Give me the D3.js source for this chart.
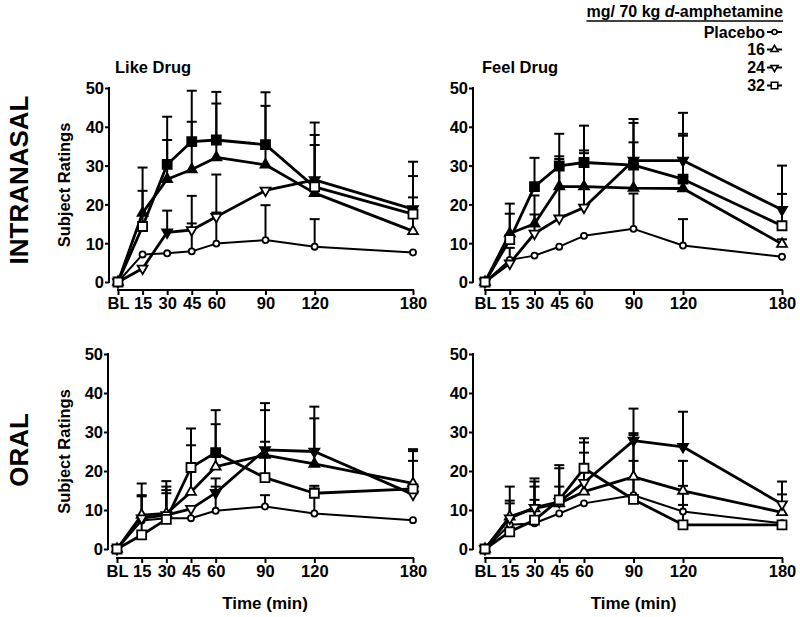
<!DOCTYPE html>
<html>
<head>
<meta charset="utf-8">
<script src="https://cdn.jsdelivr.net/npm/d3@7"></script>
<style>
  html, body { margin: 0; padding: 0; background: #fff; }
  svg { display: block; }
  text { font-family: "Liberation Sans", Arial, sans-serif; font-weight: bold; fill: #000; }
</style>
</head>
<body>
<svg id="chart" width="800" height="617"></svg>
<script>
// ---------- data ----------
const times = [0, 15, 30, 45, 60, 90, 120, 180];
const timeLabels = ["BL", "15", "30", "45", "60", "90", "120", "180"];
const yTicks = [0, 10, 20, 30, 40, 50];
const doseLabels = ["Placebo", "16", "24", "32"];
const doseSymbols = ["circle", "up", "down", "square"];

// Intranasal - Like Drug (mean, upper error-bar end, filled = significant)
const inLikePlacebo = [0, 7.1, 7.4, 7.9, 9.9, 10.8, 9.1, 7.6];
const inLike16 = [0, 17.8, 26.5, 29.0, 32.1, 30.2, 22.9, 13.1];
const inLike24 = [0, 3.5, 12.8, 13.4, 16.8, 23.6, 26.3, 18.8];
const inLike32 = [0, 14.3, 30.3, 36.2, 36.6, 35.4, 24.5, 17.5];
const inLikePlaceboErr = [null, null, null, 15.1, 17.9, 19.8, 16.2, null];
const inLike16Err = [null, 29.5, 36.6, 41.3, 46.0, 45.4, 35.3, 21.8];
const inLike24Err = [null, null, 18.4, 22.2, 27.7, null, 41.1, 31.0];
const inLike32Err = [null, 23.5, 42.6, 49.3, 49.0, 48.9, 37.9, 27.3];
const inLike16Fill = [0, 1, 1, 1, 1, 1, 1, 0];
const inLike24Fill = [0, 0, 1, 0, 0, 0, 1, 1];
const inLike32Fill = [0, 0, 1, 1, 1, 1, 0, 0];

// Intranasal - Feel Drug
const inFeelPlacebo = [0, 5.7, 6.8, 9.1, 11.9, 13.7, 9.4, 6.5];
const inFeel16 = [0, 12.5, 15.0, 24.6, 24.6, 24.2, 24.1, 9.8];
const inFeel24 = [0, 4.8, 12.5, 16.4, 19.2, 31.3, 31.3, 18.6];
const inFeel32 = [0, 10.9, 24.6, 29.9, 30.8, 30.1, 26.5, 14.5];
const inFeelPlaceboErr = [null, 8.8, null, null, null, 22.8, 16.2, null];
const inFeel16Err = [null, 20.2, 22.3, 31.7, 33.9, 36.0, 37.7, 11.0];
const inFeel24Err = [null, null, 17.4, 32.4, 33.2, 42.0, 43.6, 30.0];
const inFeel32Err = [null, 17.6, 32.0, 38.2, 40.3, 41.0, 38.2, 22.7];
const inFeel16Fill = [0, 1, 1, 1, 1, 1, 1, 0];
const inFeel24Fill = [0, 0, 0, 0, 0, 1, 1, 1];
const inFeel32Fill = [0, 0, 1, 1, 1, 1, 1, 0];

// Oral - Like Drug
const oLikePlacebo = [0, 7.3, 7.9, 7.9, 9.8, 10.9, 9.1, 7.4];
const oLike16 = [0, 8.7, 9.1, 14.6, 21.1, 24.1, 21.8, 16.8];
const oLike24 = [0, 7.9, 8.7, 10.3, 14.4, 25.4, 25.0, 14.0];
const oLike32 = [0, 3.6, 7.6, 20.9, 24.7, 18.3, 14.3, 15.4];
const oLikePlaceboErr = [null, null, 14.3, null, 16.0, 13.8, 16.2, null];
const oLike16Err = [null, 16.8, 17.4, 26.6, 32.0, 35.6, 33.5, 25.6];
const oLike24Err = [null, 13.8, 16.0, null, 18.1, 37.4, 36.5, 22.6];
const oLike32Err = [null, 13.5, 15.1, 30.9, 35.6, 27.5, 15.5, 25.1];
const oLike16Fill = [0, 0, 0, 0, 0, 1, 1, 0];
const oLike24Fill = [0, 0, 0, 0, 1, 1, 1, 0];
const oLike32Fill = [0, 0, 0, 0, 1, 0, 0, 0];

// Oral - Feel Drug
const oFeelPlacebo = [0, 6.2, 6.6, 9.1, 11.7, 13.8, 9.6, 6.6];
const oFeel16 = [0, 8.3, 10.4, 11.7, 14.7, 18.5, 14.9, 9.4];
const oFeel24 = [0, 7.9, 10.6, 12.1, 17.0, 27.8, 26.2, 11.5];
const oFeel32 = [0, 4.4, 7.4, 12.6, 20.7, 12.7, 6.2, 6.2];
const oFeelPlaceboErr = [null, 11.7, 12.6, null, null, 22.6, 16.2, null];
const oFeel16Err = [null, 16.0, 17.3, 16.0, 24.7, 29.7, 22.6, 14.0];
const oFeel24Err = [null, 12.4, 18.1, 20.7, 27.3, 36.0, 35.2, 17.3];
const oFeel32Err = [null, null, 16.0, 21.5, 28.4, 29.2, 11.3, null];
const oFeel16Fill = [0, 0, 0, 0, 0, 0, 0, 0];
const oFeel24Fill = [0, 0, 0, 0, 0, 1, 1, 0];
const oFeel32Fill = [0, 0, 0, 0, 0, 0, 0, 0];

const noFill = [0, 0, 0, 0, 0, 0, 0, 0];

// ---------- panel layout ----------
const panels = [
  { title: "Like Drug", yLabel: true, xLabel: false, x0: 118, x1: 413, axisX: 109, y0: 282, y50: 88, axisY: 290,
    series: [[inLikePlacebo, inLikePlaceboErr, noFill], [inLike16, inLike16Err, inLike16Fill], [inLike24, inLike24Err, inLike24Fill], [inLike32, inLike32Err, inLike32Fill]] },
  { title: "Feel Drug", yLabel: false, xLabel: false, x0: 485, x1: 782, axisX: 473, y0: 282, y50: 88, axisY: 290,
    series: [[inFeelPlacebo, inFeelPlaceboErr, noFill], [inFeel16, inFeel16Err, inFeel16Fill], [inFeel24, inFeel24Err, inFeel24Fill], [inFeel32, inFeel32Err, inFeel32Fill]] },
  { title: null, yLabel: true, xLabel: true, x0: 117, x1: 413, axisX: 108, y0: 549, y50: 354, axisY: 558,
    series: [[oLikePlacebo, oLikePlaceboErr, noFill], [oLike16, oLike16Err, oLike16Fill], [oLike24, oLike24Err, oLike24Fill], [oLike32, oLike32Err, oLike32Fill]] },
  { title: null, yLabel: false, xLabel: true, x0: 485, x1: 782, axisX: 473, y0: 549, y50: 354, axisY: 558,
    series: [[oFeelPlacebo, oFeelPlaceboErr, noFill], [oFeel16, oFeel16Err, oFeel16Fill], [oFeel24, oFeel24Err, oFeel24Fill], [oFeel32, oFeel32Err, oFeel32Fill]] }
];

const svg = d3.select("#chart");

function symbolPath(kind, s) {
  if (kind === "circle") return d3.symbol(d3.symbolCircle, Math.PI * (s * 0.38) * (s * 0.38))();
  if (kind === "square") return d3.symbol(d3.symbolSquare, s * s)();
  return d3.symbol(d3.symbolTriangle, Math.sqrt(3) / 4 * (s * 1.1) * (s * 1.1))();
}
function drawSymbol(g, kind, x, y, filled, s, sw) {
  const p = g.append("path")
    .attr("d", symbolPath(kind, s))
    .attr("fill", filled ? "#000" : "#fff")
    .attr("stroke", "#000")
    .attr("stroke-width", sw);
  let tr = `translate(${x},${y})`;
  if (kind === "down") tr += " rotate(180)";
  p.attr("transform", tr);
}

const FS = 16.5;

panels.forEach(P => {
  const x = d3.scaleLinear().domain([0, 180]).range([P.x0, P.x1]);
  const y = d3.scaleLinear().domain([0, 50]).range([P.y0, P.y50]);
  const g = svg.append("g");

  // y axis
  const ya = g.append("g").attr("transform", `translate(${P.axisX},0)`)
    .call(d3.axisLeft(y).tickValues(yTicks).tickSize(4).tickPadding(1).tickFormat(d3.format("d")));
  ya.select(".domain").attr("stroke-width", 2).attr("d", `M0,${P.y0 + 1}V${P.y50 - 1}`);
  ya.selectAll(".tick line").attr("stroke-width", 2);
  ya.selectAll(".tick text").attr("font-size", FS).attr("font-family", "Liberation Sans, Arial, sans-serif").attr("font-weight", "bold").attr("dy", "0.36em");

  // x axis
  const xa = g.append("g").attr("transform", `translate(0,${P.axisY})`)
    .call(d3.axisBottom(x).tickValues(times).tickSize(5).tickPadding(2).tickFormat((d, i) => timeLabels[i]));
  xa.select(".domain").attr("stroke-width", 2).attr("d", `M${P.x0 - 1},0H${P.x1 + 1}`);
  xa.selectAll(".tick line").attr("stroke-width", 2);
  xa.selectAll(".tick text").attr("font-size", FS).attr("font-family", "Liberation Sans, Arial, sans-serif").attr("font-weight", "bold");

  if (P.title) {
    g.append("text").attr("x", P.x0 - 3).attr("y", 73).attr("font-size", 16.5).text(P.title);
  }
  if (P.xLabel) {
    g.append("text").attr("x", (P.x0 + P.x1) / 2).attr("y", 609).attr("text-anchor", "middle")
      .attr("font-size", 17).text("Time (min)");
  }
  if (P.yLabel) {
    const cy = (P.y0 + P.y50) / 2;
    g.append("text").attr("transform", `translate(70,${cy}) rotate(-90)`).attr("text-anchor", "middle")
      .attr("font-size", 16.5).text("Subject Ratings");
  }

  const line = d3.line().x((d, i) => x(times[i])).y(d => y(d));

  // lines
  P.series.forEach((s, si) => {
    g.append("path").datum(s[0]).attr("d", line).attr("fill", "none")
      .attr("stroke", "#000").attr("stroke-width", si === 0 ? 2 : 2.8).attr("stroke-linejoin", "round");
  });
  // error bars (upper only)
  P.series.forEach((s, si) => {
    s[1].forEach((top, i) => {
      if (top == null) return;
      const cx = x(times[i]);
      g.append("line").attr("x1", cx).attr("x2", cx).attr("y1", y(s[0][i])).attr("y2", y(top))
        .attr("stroke", "#000").attr("stroke-width", 2);
      g.append("line").attr("x1", cx - 5).attr("x2", cx + 5).attr("y1", y(top)).attr("y2", y(top))
        .attr("stroke", "#000").attr("stroke-width", 2);
    });
  });
  // markers
  P.series.forEach((s, si) => {
    s[0].forEach((v, i) => {
      drawSymbol(g, doseSymbols[si], x(times[i]), y(v), s[2][i] === 1, si === 0 ? 8 : 9, 1.8);
    });
  });
});

// route labels
svg.append("text").attr("transform", "translate(28,180) rotate(-90)").attr("text-anchor", "middle")
  .attr("font-size", 26).text("INTRANASAL");
svg.append("text").attr("transform", "translate(28,450) rotate(-90)").attr("text-anchor", "middle")
  .attr("font-size", 26).text("ORAL");

// legend
const lg = svg.append("g");
const lt = lg.append("text").attr("x", 783).attr("y", 17).attr("text-anchor", "end").attr("font-size", 16);
lt.append("tspan").text("mg/ 70 kg ");
lt.append("tspan").attr("font-style", "italic").text("d");
lt.append("tspan").text("-amphetamine");
const bb = lt.node().getBBox();
lg.append("line").attr("x1", bb.x).attr("x2", bb.x + bb.width).attr("y1", 21).attr("y2", 21)
  .attr("stroke", "#000").attr("stroke-width", 1.6);
const legY = [32, 49.5, 67.5, 85.5];
doseLabels.forEach((lab, i) => {
  lg.append("text").attr("x", 765).attr("y", legY[i]).attr("dy", "0.36em").attr("text-anchor", "end")
    .attr("font-size", 16).text(lab);
  lg.append("line").attr("x1", 767).attr("x2", 782).attr("y1", legY[i]).attr("y2", legY[i])
    .attr("stroke", "#000").attr("stroke-width", 2);
  drawSymbol(lg, doseSymbols[i], 774.5, legY[i], false, 6.5, 1.6);
});
</script>
</body>
</html>
